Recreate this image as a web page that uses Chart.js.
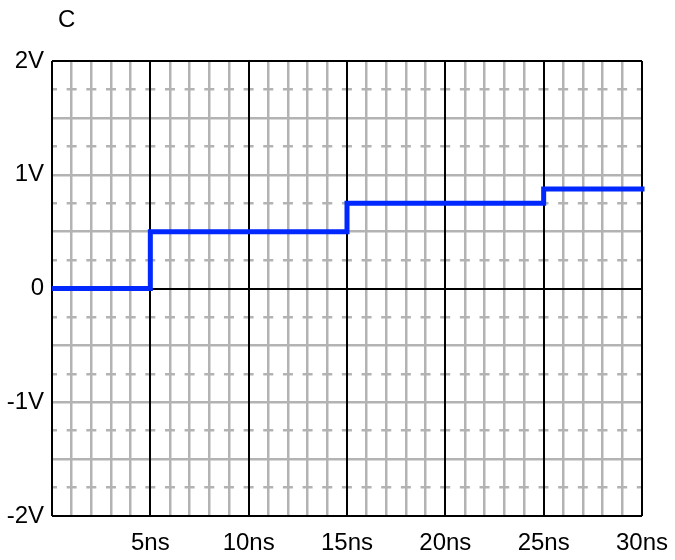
<!DOCTYPE html>
<html>
<head>
<meta charset="utf-8">
<script src="https://cdn.jsdelivr.net/npm/chart.js@4/dist/chart.umd.min.js"></script>
<style>
  html, body { margin: 0; padding: 0; background: #fff; }
  #wrap { width: 675px; height: 560px; }
</style>
</head>
<body>
<div id="wrap"><canvas id="scope"></canvas></div>
<script>
// waveform C: step response, time in ns, level in V
const timesNs = [0, 5, 15, 25, 30];
const volts = [0, 0.5, 0.75, 0.875, 0.875];

// axis ranges / tick labels
const xRange = [0, 30];
const yRange = [-2, 2];
const xLabelTicks = [5, 10, 15, 20, 25, 30];
const yLabelTicks = [-2, -1, 0, 1, 2];

const GREY = "#b3b3b3";
const BLACK = "#000000";
const FONT = { family: "'Liberation Sans', Arial, sans-serif", size: 24 };

// "C" caption in the corner
const captionPlugin = {
  id: "caption",
  afterDraw(chart) {
    const ctx = chart.ctx;
    ctx.save();
    ctx.font = "24px 'Liberation Sans', Arial, sans-serif";
    ctx.fillStyle = "#000";
    ctx.textAlign = "left";
    ctx.textBaseline = "middle";
    ctx.fillText("C", 58, 20);
    ctx.restore();
  },
};

const points = timesNs.map((t, i) => ({ x: t, y: volts[i] }));

const config = {
  type: "line",
  data: {
    datasets: [
      {
        data: points,
        stepped: "before",
        borderColor: "#0028ff",
        borderWidth: 5,
        borderCapStyle: "square",
        pointRadius: 0,
        fill: false,
        clip: { left: 0, right: 4, top: 0, bottom: 0 },
      },
    ],
  },
  options: {
    responsive: true,
    maintainAspectRatio: false,
    animation: false,
    layout: { padding: { left: 0, right: 33, top: 61, bottom: 0 } },
    plugins: {
      legend: { display: false },
      tooltip: { enabled: false },
    },
    scales: {
      // minor vertical grid + ns labels
      x: {
        type: "linear",
        position: "bottom",
        min: xRange[0],
        max: xRange[1],
        ticks: {
          stepSize: 1,
          autoSkip: false,
          maxRotation: 0,
          padding: 13,
          color: "#000",
          font: FONT,
          callback: (v) => (xLabelTicks.includes(v) ? v + "ns" : ""),
        },
        grid: {
          z: -3,
          drawTicks: false,
          lineWidth: 2.5,
          color: (c) => (c.tick && c.tick.value % 5 === 0 ? "rgba(0,0,0,0)" : GREY),
        },
        border: { display: false },
        afterFit: (s) => {
          s.height = 44;
          s.paddingLeft = 0;
          s.paddingRight = 0;
        },
      },
      // major vertical lines every 5ns
      xMajor: {
        type: "linear",
        position: "top",
        min: xRange[0],
        max: xRange[1],
        ticks: { display: false, stepSize: 5 },
        grid: { z: -2, drawTicks: false, lineWidth: 2, color: BLACK },
        border: { display: false },
        afterFit: (s) => { s.height = 0; },
      },
      // solid grey horizontal lines every 0.5V + V labels
      y: {
        type: "linear",
        position: "left",
        min: yRange[0],
        max: yRange[1],
        ticks: {
          stepSize: 0.5,
          autoSkip: false,
          padding: 8,
          color: "#000",
          font: FONT,
          callback: (v) => {
            if (!yLabelTicks.includes(v)) return "";
            return v === 0 ? "0" : v + "V";
          },
        },
        grid: {
          z: -3,
          drawTicks: false,
          lineWidth: 2.5,
          color: (c) => (c.tick && Math.abs(c.tick.value) % 2 === 0 ? "rgba(0,0,0,0)" : GREY),
        },
        border: { display: false },
        afterFit: (s) => {
          s.width = 52;
          s.paddingTop = 0;
          s.paddingBottom = 0;
        },
      },
      // dashed grey lines at odd quarter volts
      yDash: {
        type: "linear",
        position: "left",
        min: yRange[0],
        max: yRange[1],
        ticks: { display: false, stepSize: 0.25, autoSkip: false },
        grid: {
          z: -3,
          drawTicks: false,
          lineWidth: 2.5,
          color: (c) => (c.tick && Math.round(c.tick.value * 4) % 2 !== 0 ? GREY : "rgba(0,0,0,0)"),
        },
        border: { display: false, dash: [10, 9.66], dashOffset: 5 },
        afterFit: (s) => { s.width = 0; },
      },
      // black lines: top, zero, bottom
      yMajor: {
        type: "linear",
        position: "left",
        min: yRange[0],
        max: yRange[1],
        ticks: { display: false, stepSize: 2 },
        grid: { z: -2, drawTicks: false, lineWidth: 2, color: BLACK },
        border: { display: false },
        afterFit: (s) => { s.width = 0; },
      },
    },
  },
  plugins: [captionPlugin],
};

const scopeChart = new Chart(document.getElementById("scope"), config);
</script>
</body>
</html>
